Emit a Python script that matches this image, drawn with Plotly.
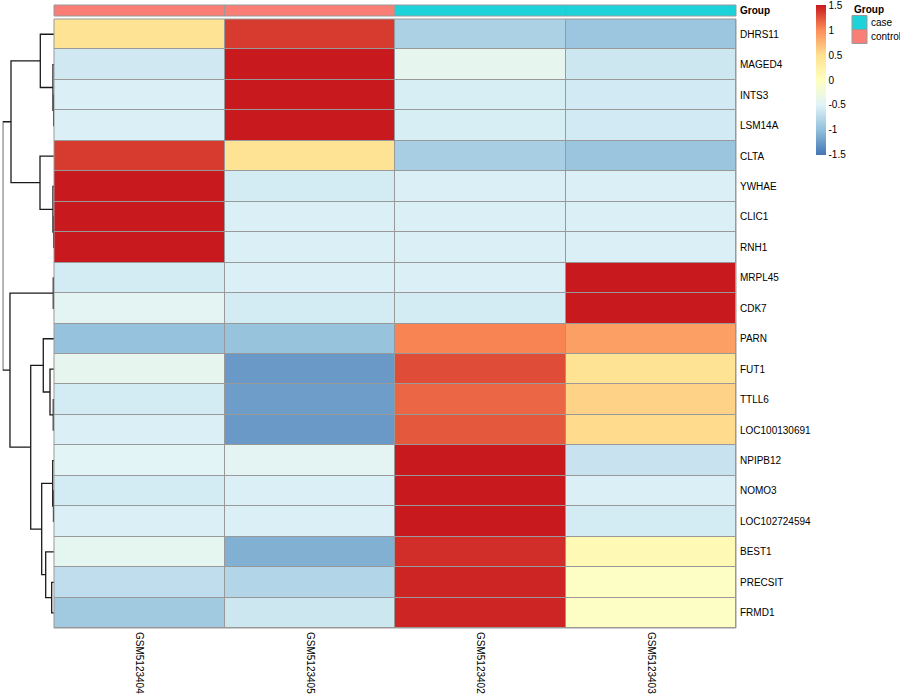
import plotly.graph_objects as go

# ---------------- data ----------------
genes = ["DHRS11", "MAGED4", "INTS3", "LSM14A", "CLTA", "YWHAE", "CLIC1", "RNH1",
         "MRPL45", "CDK7", "PARN", "FUT1", "TTLL6", "LOC100130691", "NPIPB12",
         "NOMO3", "LOC102724594", "BEST1", "PRECSIT", "FRMD1"]
samples = ["GSM5123404", "GSM5123405", "GSM5123402", "GSM5123403"]
sample_group = ["control", "control", "case", "case"]

GSM5123404 = [0.45, -0.61, -0.53, -0.53, 1.36, 1.50, 1.50, 1.50, -0.58, -0.45,
              -0.97, -0.40, -0.58, -0.53, -0.47, -0.58, -0.54, -0.42, -0.71, -0.90]
GSM5123405 = [1.36, 1.50, 1.50, 1.50, 0.45, -0.58, -0.54, -0.54, -0.54, -0.58,
              -0.96, -1.26, -1.23, -1.26, -0.45, -0.54, -0.54, -1.10, -0.79, -0.62]
GSM5123402 = [-0.83, -0.40, -0.55, -0.55, -0.86, -0.54, -0.54, -0.54, -0.54, -0.58,
              1.04, 1.28, 1.17, 1.23, 1.50, 1.50, 1.50, 1.41, 1.45, 1.45]
GSM5123403 = [-0.93, -0.62, -0.59, -0.59, -0.94, -0.54, -0.54, -0.54, 1.50, 1.50,
              0.89, 0.45, 0.58, 0.53, -0.65, -0.54, -0.58, 0.10, -0.05, -0.05]

group_names = ["case", "control"]
group_colors = ["#1CD3DA", "#FA7E75"]

# row clustering (hclust-like merges: left, right, height)
link_a = ["INTS3", "MAGED4", "DHRS11", "CLIC1", "YWHAE", "CLTA", "c2",
          "MRPL45", "TTLL6", "FUT1", "PARN", "NOMO3", "NPIPB12", "PRECSIT",
          "BEST1", "c12", "c10", "c7", "c6"]
link_b = ["LSM14A", "c0", "c1", "RNH1", "c3", "c4", "c5",
          "CDK7", "LOC100130691", "c8", "c9", "LOC102724594", "c11", "FRMD1",
          "c13", "c14", "c15", "c16", "c17"]
link_height = [0.006, 0.02, 0.267, 0.006, 0.02, 0.273, 0.838,
               0.014, 0.014, 0.078, 0.209, 0.01, 0.025, 0.045,
               0.162, 0.24, 0.454, 0.858, 1.0]

legend_ticks = [1.5, 1.0, 0.5, 0.0, -0.5, -1.0, -1.5]
legend_ticktext = ["1.5", "1", "0.5", "0", "-0.5", "-1", "-1.5"]

# ---------------- style ----------------
W, H = 900, 700
FONT = "Liberation Sans, Arial, Helvetica, sans-serif"
BORDER = "#999999"
ZMIN, ZMAX = -1.502, 1.502
colorscale = [[0.0, "#4575B4"], [1/6, "#91BFDB"], [2/6, "#E0F3F8"], [3/6, "#FFFFBF"],
              [4/6, "#FEE090"], [5/6, "#FC8D59"], [1.0, "#C8191E"]]

def px_x(p):
    return p / W

def px_y(p):
    return 1 - p / H

heat_x = [px_x(54), px_x(736)]
heat_y = [px_y(628), px_y(19)]
ann_y = [px_y(16), px_y(5)]
dend_x = [px_x(2.7), px_x(54)]

z = [list(r) for r in zip(GSM5123404, GSM5123405, GSM5123402, GSM5123403)]
rows = list(range(len(genes)))
cols = list(range(len(samples)))

fig = go.Figure()

fig.add_trace(go.Heatmap(
    z=z, x=cols, y=rows, colorscale=colorscale, zmin=ZMIN, zmax=ZMAX,
    xgap=1, ygap=1, hoverinfo="skip",
    colorbar=dict(lenmode="pixels", len=150, thicknessmode="pixels", thickness=10,
                  x=px_x(816), xanchor="left", y=px_y(5), yanchor="top",
                  xpad=0, ypad=0, outlinewidth=0, ticks="",
                  ticklabeloverflow="allow",
                  tickvals=legend_ticks, ticktext=legend_ticktext,
                  tickfont=dict(size=10, family=FONT, color="black")),
))

# annotation bar
gidx = [group_names.index(g) for g in sample_group]
n_g = len(group_names)
ann_scale = []
for i, c in enumerate(group_colors):
    ann_scale.append([i / n_g, c])
    ann_scale.append([(i + 1) / n_g, c])
fig.add_trace(go.Heatmap(
    z=[gidx], x=cols, y=[0], colorscale=ann_scale, zmin=-0.5, zmax=n_g - 0.5,
    showscale=False, xgap=1, hoverinfo="skip", xaxis="x", yaxis="y3",
))

# dendrogram
pos = {g: i for i, g in enumerate(genes)}
hgt = {g: 0.0 for g in genes}
dx, dy = [], []
for k, (a, b, h) in enumerate(zip(link_a, link_b, link_height)):
    ya, yb = pos[a], pos[b]
    dx += [hgt[a], h, h, hgt[b], None]
    dy += [ya, ya, yb, yb, None]
    pos[f"c{k}"] = (ya + yb) / 2
    hgt[f"c{k}"] = h
fig.add_trace(go.Scatter(x=dx, y=dy, mode="lines", xaxis="x2", yaxis="y",
                         line=dict(color="#1a1a1a", width=1.3),
                         hoverinfo="skip", showlegend=False))

shapes = [
    dict(type="rect", xref="x domain", yref="y domain", x0=0, x1=1, y0=0, y1=1,
         fillcolor=BORDER, line=dict(width=0), layer="below"),
    dict(type="rect", xref="x domain", yref="y domain", x0=0, x1=1, y0=0, y1=1,
         line=dict(color=BORDER, width=1)),
    dict(type="rect", xref="x domain", yref="y3 domain", x0=0, x1=1, y0=0, y1=1,
         fillcolor=BORDER, line=dict(width=0), layer="below"),
    dict(type="rect", xref="x domain", yref="y3 domain", x0=0, x1=1, y0=0, y1=1,
         line=dict(color=BORDER, width=1)),
]
annotations = [dict(text="<b>Group</b>", x=px_x(852), y=px_y(10), xref="paper", yref="paper",
                    xanchor="left", yanchor="middle", showarrow=False,
                    font=dict(size=10, family=FONT, color="black"))]
for i, (g, c) in enumerate(zip(group_names, group_colors)):
    top = 15.5 + 14 * i
    shapes.append(dict(type="rect", xref="paper", yref="paper",
                       x0=px_x(852), x1=px_x(867), y0=px_y(top + 14), y1=px_y(top),
                       fillcolor=c, line=dict(color=BORDER, width=1)))
    annotations.append(dict(text=g, x=px_x(869), y=px_y(top + 7), xref="paper", yref="paper",
                            xanchor="left", yanchor="middle", showarrow=False,
                            font=dict(size=10, family=FONT, color="black")))

fig.update_layout(
    width=W, height=H, margin=dict(l=0, r=0, t=0, b=0, autoexpand=False),
    paper_bgcolor="white", plot_bgcolor="white", showlegend=False,
    font=dict(family=FONT, size=10, color="black"),
    xaxis=dict(domain=heat_x, range=[-0.5, len(samples) - 0.5], tickvals=cols,
               ticktext=samples, tickangle=90, ticks="", showgrid=False,
               zeroline=False, showline=False, anchor="y", automargin=False,
               ticklabelstandoff=3,
               tickfont=dict(size=10, family=FONT, color="black")),
    yaxis=dict(domain=heat_y, range=[len(genes) - 0.5, -0.5], tickvals=rows,
               ticktext=genes, side="right", ticks="", showgrid=False,
               zeroline=False, showline=False, anchor="x", automargin=False,
               ticklabelstandoff=3,
               tickfont=dict(size=10, family=FONT, color="black")),
    xaxis2=dict(domain=dend_x, range=[1.0, 0.0], visible=False, anchor="y",
                automargin=False),
    yaxis3=dict(domain=ann_y, range=[-0.5, 0.5], tickvals=[0], ticktext=["<b>Group</b>"],
                side="right", ticks="", showgrid=False, zeroline=False, anchor="x",
                automargin=False, ticklabelstandoff=3,
                tickfont=dict(size=10, family=FONT, color="black")),
    shapes=shapes, annotations=annotations,
)

fig.write_html("out.html", config={"displayModeBar": False},
               post_script="document.body.style.margin='0';document.body.style.padding='0';")
